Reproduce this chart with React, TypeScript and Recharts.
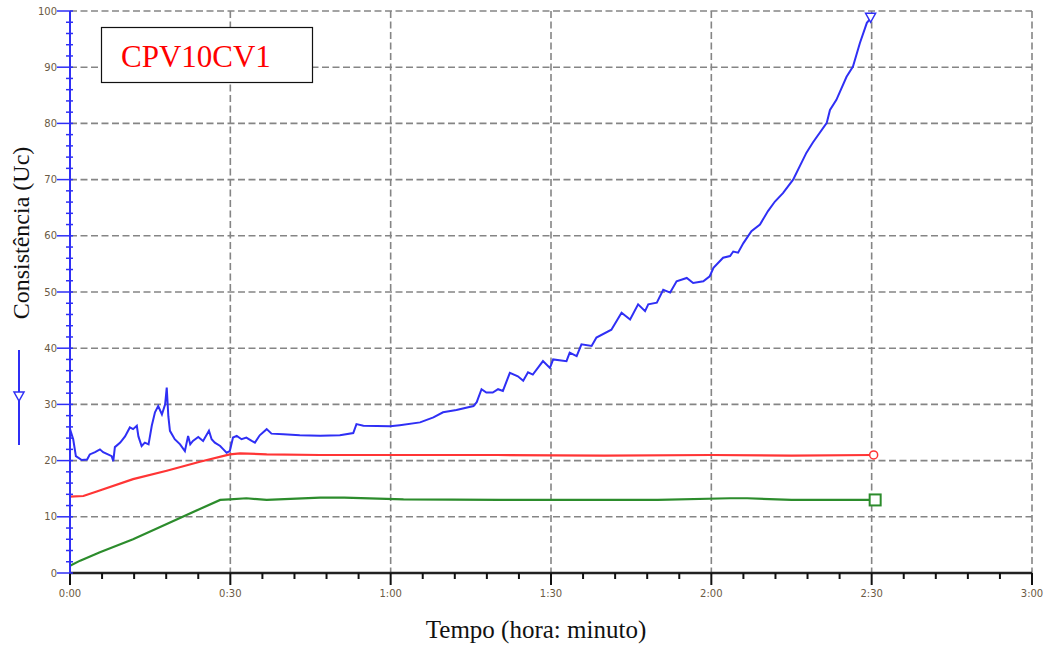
import { LineChart, Line, XAxis, YAxis, CartesianGrid } from "recharts";

// Consistência (Uc) over time, minutes since start
const consistencyMin = [
  0, 0.6, 1.1, 2.2, 3.2, 3.7, 4.7, 5.6, 6.2, 7.1, 7.8, 8.1, 8.4, 9.4, 10.3,
  11.2, 11.8, 12.5, 12.8, 13.4, 14.0, 14.7, 15.3, 15.9, 16.5, 17.2, 17.8,
  18.1, 18.4, 18.7, 19.6, 20.6, 21.5, 22.1, 22.5, 23.0, 24.0, 24.9, 26.0,
  26.5, 27.1, 28.1, 28.7, 29.3, 29.9, 30.5, 31.2, 32.1, 33.0, 34.0, 34.6,
  35.5, 36.8, 37.7, 39.9, 43.0, 46.8, 50.5, 53.0, 53.6, 54.9, 59.9, 61.7,
  65.5, 68.0, 69.8, 72.3, 75.5, 76.1, 77.0, 77.9, 79.1, 80.1, 81.0, 82.3,
  83.8, 84.8, 85.7, 86.6, 88.5, 89.8, 90.4, 92.9, 93.5, 94.8, 95.7, 97.6,
  98.5, 101.3, 103.2, 104.8, 106.3, 107.6, 108.2, 109.8, 111.0, 112.3,
  113.5, 115.4, 116.6, 118.5, 119.7, 120.4, 122.2, 123.5, 124.1, 125.0,
  126.0, 127.5, 129.1, 130.6, 131.9, 133.4, 135.3, 137.8, 139.0, 141.6,
  142.2, 143.4, 145.3, 146.5, 147.8, 149.1, 149.8,
];
const consistencyUc = [
  25.6, 23.8, 20.8, 20.1, 20.2, 21.1, 21.5, 22.0, 21.5, 21.1, 20.8, 19.9,
  22.4, 23.2, 24.3, 25.9, 25.6, 26.2, 24.3, 22.6, 23.2, 22.9, 26.2, 28.6,
  29.7, 28.2, 30.0, 33.0, 27.9, 25.3, 23.8, 22.9, 21.7, 24.4, 22.9, 23.5,
  24.2, 23.5, 25.3, 23.8, 23.2, 22.6, 22.0, 21.4, 21.7, 24.1, 24.4, 23.8,
  24.1, 23.5, 23.2, 24.5, 25.6, 24.8, 24.7, 24.5, 24.4, 24.5, 24.9, 26.5,
  26.2, 26.1, 26.3, 26.8, 27.7, 28.6, 29.0, 29.7, 30.4, 32.7, 32.1, 32.1,
  32.7, 32.4, 35.6, 35.0, 34.2, 35.7, 35.3, 37.7, 36.5, 38.0, 37.7, 39.2,
  38.6, 40.7, 40.4, 41.9, 43.3, 46.3, 45.1, 47.8, 46.6, 47.8, 48.1, 50.4,
  49.9, 51.9, 52.5, 51.6, 51.9, 52.8, 54.3, 56.1, 56.4, 57.2, 57.0, 58.7,
  60.8, 62.0, 64.4, 66.1, 67.6, 70.0, 74.8, 76.6, 80.1, 82.4, 84.2, 88.3,
  90.1, 94.3, 97.9, 98.7,
];

const redMin = [0, 2.5, 5, 11.8, 18.1, 24.3, 29.9, 31.8, 36.8, 46.8, 62, 80, 100, 120, 135, 150];
const redVal = [13.6, 13.7, 14.5, 16.7, 18.2, 19.8, 21.1, 21.3, 21.1, 21.0, 21.0, 21.0, 20.9, 21.0, 20.9, 21.0];

const greenMin = [0, 1.9, 5.6, 11.8, 18.1, 24.3, 28.1, 29.9, 33, 36.8, 46.8, 51.3, 62.4, 80.5, 99.2, 110, 123.5, 126.7, 135, 150];
const greenVal = [1.3, 2.2, 3.7, 6.0, 8.7, 11.4, 13.0, 13.1, 13.3, 13.0, 13.4, 13.4, 13.1, 13.0, 13.0, 13.0, 13.3, 13.3, 13.0, 13.0];

const xTicks = Array.from({ length: 31 }, (_, i) => i * 6);
const yTicks = Array.from({ length: 51 }, (_, i) => i * 2);
const gridX = [30, 60, 90, 120, 150, 180];
const gridY = [10, 20, 30, 40, 50, 60, 70, 80, 90, 100];

const toPoints = (ts: number[], vs: number[]) => ts.map((t, i) => ({ t, v: vs[i] }));
const blueData = toPoints(consistencyMin, consistencyUc);
const redData = toPoints(redMin, redVal);
const greenData = toPoints(greenMin, greenVal);

const BLUE = "#2f2ff5";
const RED = "#ff3535";
const GREEN = "#2c8c2c";
const TICK_TEXT = "#6b5a44";

const fmtTime = (m: number) => `${Math.floor(m / 60)}:${String(m % 60).padStart(2, "0")}`;

const YTick = (props: any) => {
  const { x, y, payload } = props;
  const major = payload.value % 10 === 0;
  return (
    <g>
      <line x1={major ? x - 13 : x - 4} x2={x + 3} y1={y} y2={y} stroke={BLUE} strokeWidth={1.5} />
      {major && (
        <text x={x - 13} y={y} dy="0.35em" textAnchor="end" fontSize={10} fontFamily="DejaVu Sans" fill={TICK_TEXT}>
          {payload.value}
        </text>
      )}
    </g>
  );
};

const XTick = (props: any) => {
  const { x, y, payload } = props;
  const major = payload.value % 30 === 0;
  return (
    <g>
      <line x1={x} x2={x} y1={y} y2={y + (major ? 12 : 6)} stroke="#111" strokeWidth={2} />
      {major && (
        <text x={x} y={y + 23.5} textAnchor="middle" fontSize={10} fontFamily="DejaVu Sans" fill={TICK_TEXT}>
          {fmtTime(payload.value)}
        </text>
      )}
    </g>
  );
};

// end-of-run markers, drawn only on the last sample of each curve
const lastOnly = (n: number, shape: (cx: number, cy: number) => JSX.Element) => (p: any) =>
  p.index === n - 1 ? <g key={p.index}>{shape(p.cx, p.cy)}</g> : <g key={p.index} />;

const triangleDown = (cx: number, cy: number) => (
  <path d={`M${cx - 5},${cy - 5} L${cx + 5},${cy - 5} L${cx},${cy + 4} Z`} fill="#fff" stroke={BLUE} strokeWidth={1.5} />
);
const circle = (cx: number, cy: number) => <circle cx={cx + 2} cy={cy} r={4} fill="#fff" stroke={RED} strokeWidth={1.5} />;
const square = (cx: number, cy: number) => (
  <rect x={cx - 2} y={cy - 5.5} width={11} height={11} fill="#fff" stroke={GREEN} strokeWidth={2} />
);

export default function App() {
  return (
    <div style={{ position: "absolute", left: 0, top: 0, width: 1054, height: 651, background: "#fff" }}>
      <LineChart width={1054} height={651} margin={{ top: 11, right: 22, left: 10, bottom: 48 }}>
        <CartesianGrid
          stroke="#858585"
          strokeWidth={1.6}
          strokeDasharray="7 3.5"
          horizontalValues={gridY}
          verticalValues={gridX}
        />
        <XAxis
          type="number"
          dataKey="t"
          domain={[0, 180]}
          ticks={xTicks}
          interval={0}
          height={30}
          tickSize={0}
          tickMargin={0}
          tick={<XTick />}
          axisLine={{ stroke: "#222", strokeWidth: 2.5 }}
          allowDuplicatedCategory={false}
        />
        <YAxis
          type="number"
          domain={[0, 100]}
          ticks={yTicks}
          interval={0}
          width={60}
          tickSize={0}
          tickMargin={0}
          tick={<YTick />}
          axisLine={{ stroke: BLUE, strokeWidth: 2 }}
        />
        <Line data={redData} dataKey="v" type="linear" stroke={RED} strokeWidth={2.2} dot={lastOnly(redData.length, circle)} activeDot={false} isAnimationActive={false} />
        <Line data={greenData} dataKey="v" type="linear" stroke={GREEN} strokeWidth={2.2} dot={lastOnly(greenData.length, square)} activeDot={false} isAnimationActive={false} />
        <Line data={blueData} dataKey="v" type="linear" stroke={BLUE} strokeWidth={2} dot={lastOnly(blueData.length, triangleDown)} activeDot={false} isAnimationActive={false} />
      </LineChart>
      <svg width={1054} height={651} style={{ position: "absolute", left: 0, top: 0, pointerEvents: "none" }}>
        <rect x={101.5} y={27.5} width={211} height={55} fill="#fff" stroke="#111" strokeWidth={1.2} />
        <text x={121} y={67} fontFamily="Liberation Serif" fontSize={31} fill="#ff0000">
          CPV10CV1
        </text>
        <text
          transform="translate(21,233) rotate(-90)"
          textAnchor="middle"
          dominantBaseline="central"
          fontFamily="Liberation Serif"
          fontSize={24}
          fill="#111"
        >
          Consistência (Uc)
        </text>
        <line x1={19} x2={19} y1={350} y2={445} stroke={BLUE} strokeWidth={2} />
        <path d="M14,392 L24,392 L19,401 Z" fill="#fff" stroke={BLUE} strokeWidth={1.5} />
        <text x={536} y={638} textAnchor="middle" fontFamily="Liberation Serif" fontSize={25} fill="#111">
          Tempo (hora: minuto)
        </text>
      </svg>
    </div>
  );
}
